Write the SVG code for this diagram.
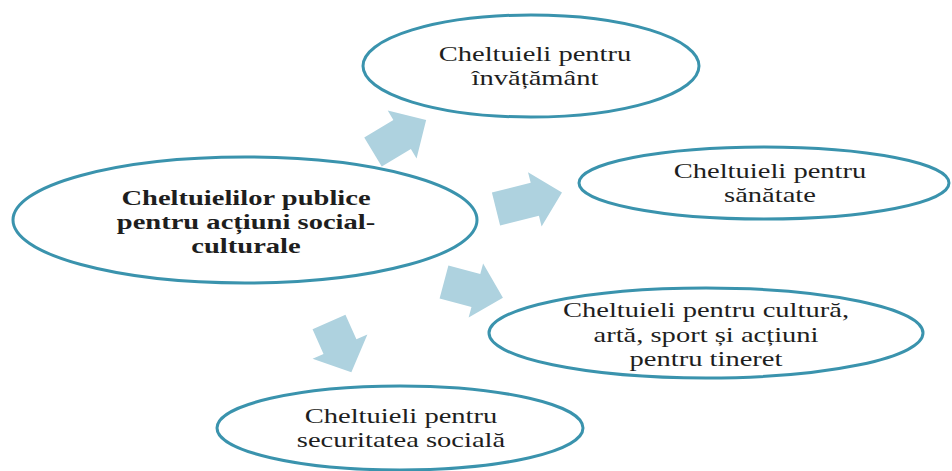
<svg xmlns="http://www.w3.org/2000/svg" width="952" height="471" viewBox="0 0 952 471">
<style>
.node ellipse{fill:#ffffff;stroke:#3a93ad;stroke-width:3}
.arrow{fill:#aed2df}
.lbl{font-family:"Liberation Serif","Tinos","DejaVu Serif","Times New Roman",serif;font-size:21px;fill:#1e1e1e;text-anchor:middle}
.b{font-weight:bold}
</style>
<rect width="952" height="471" fill="#ffffff"/>
<g id="connectors">
<polygon class="arrow" transform="translate(373 152) rotate(-31)" points="0,-17 34,-17 34,-28 62,0 34,28 34,17 0,17"/>
<polygon class="arrow" transform="translate(496 209) rotate(-14)" points="0,-17 40,-17 40,-28 68,0 40,28 40,17 0,17"/>
<polygon class="arrow" transform="translate(444 282) rotate(15)" points="0,-17 33,-17 33,-28 61,0 33,28 33,17 0,17"/>
<polygon class="arrow" transform="translate(329 322) rotate(66)" points="0,-18 27,-18 27,-30 55,0 27,30 27,18 0,18"/>
</g>
<g id="node-center" class="node">
<ellipse cx="245" cy="220" rx="232" ry="63"/>
<g transform="translate(246 0) scale(1.36 1)" font-family="Liberation Serif, DejaVu Serif, serif">
<text class="lbl b" x="0" y="205">Cheltuielilor publice</text>
<text class="lbl b" x="0" y="229">pentru acțiuni social-</text>
<text class="lbl b" x="0" y="253">culturale</text>
</g>
</g>
<g id="node-invatamant" class="node">
<ellipse cx="531" cy="66" rx="168" ry="51"/>
<g transform="translate(535 0) scale(1.36 1)" font-family="Liberation Serif, DejaVu Serif, serif">
<text class="lbl" x="0" y="61">Cheltuieli pentru</text>
<text class="lbl" x="0" y="85">învățământ</text>
</g>
</g>
<g id="node-sanatate" class="node">
<ellipse cx="764" cy="183" rx="185" ry="36"/>
<g transform="translate(770 0) scale(1.36 1)" font-family="Liberation Serif, DejaVu Serif, serif">
<text class="lbl" x="0" y="178">Cheltuieli pentru</text>
<text class="lbl" x="0" y="202">sănătate</text>
</g>
</g>
<g id="node-cultura" class="node">
<ellipse cx="706" cy="333" rx="217" ry="45"/>
<g transform="translate(706 0) scale(1.36 1)" font-family="Liberation Serif, DejaVu Serif, serif">
<text class="lbl" x="0" y="317">Cheltuieli pentru cultură,</text>
<text class="lbl" x="0" y="342">artă, sport și acțiuni</text>
<text class="lbl" x="0" y="366">pentru tineret</text>
</g>
</g>
<g id="node-securitate" class="node">
<ellipse cx="400" cy="428" rx="183" ry="42"/>
<g transform="translate(401 0) scale(1.36 1)" font-family="Liberation Serif, DejaVu Serif, serif">
<text class="lbl" x="0" y="423">Cheltuieli pentru</text>
<text class="lbl" x="0" y="447">securitatea socială</text>
</g>
</g>
</svg>
